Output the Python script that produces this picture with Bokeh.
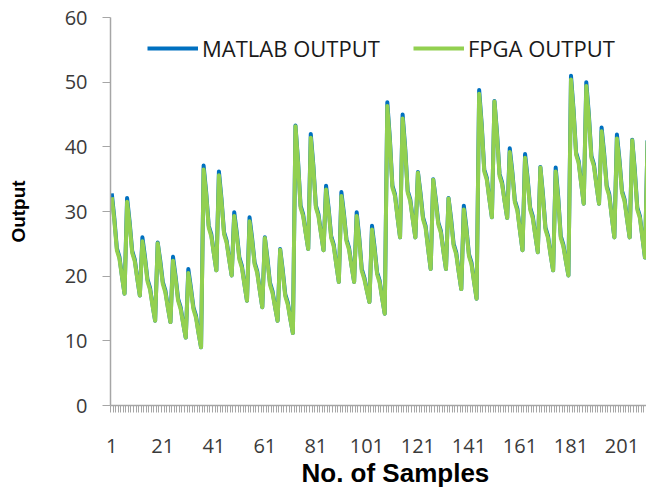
from bokeh.plotting import figure
from bokeh.models import FixedTicker, Range1d, Legend, LegendItem, Title
from bokeh.embed import file_html
from bokeh.resources import INLINE

# MATLAB output, one row per oscillation period (6 samples)
matlab = [
    32.8, 29.0, 24.3, 23.0, 20.0, 17.3,
    32.1, 28.4, 23.9, 22.6, 19.7, 17.0,
    26.0, 23.0, 19.5, 18.2, 15.5, 13.1,
    25.2, 22.4, 19.1, 17.8, 15.2, 12.9,
    23.0, 20.0, 16.5, 15.2, 12.7, 10.5,
    21.1, 18.3, 15.2, 13.9, 11.3, 9.0,
    37.1, 33.0, 27.8, 26.5, 23.6, 20.9,
    36.2, 32.0, 26.8, 25.5, 22.7, 20.1,
    29.9, 26.7, 22.9, 21.6, 18.8, 16.2,
    29.1, 25.9, 22.1, 20.8, 17.9, 15.2,
    26.0, 22.8, 19.0, 17.7, 15.3, 13.1,
    24.2, 21.0, 17.2, 15.9, 13.4, 11.2,
    43.3, 37.9, 30.9, 29.6, 26.8, 24.2,
    42.0, 37.2, 30.9, 29.6, 26.7, 24.0,
    34.0, 30.5, 26.2, 24.9, 21.9, 19.1,
    33.0, 29.7, 25.7, 24.4, 21.6, 19.1,
    29.9, 26.0, 21.1, 19.8, 17.8, 16.0,
    27.8, 24.5, 20.6, 19.3, 16.6, 14.2,
    46.9, 41.3, 34.0, 32.7, 29.2, 26.0,
    45.0, 39.9, 33.2, 31.9, 28.8, 26.0,
    36.1, 32.9, 29.1, 27.8, 24.3, 21.1,
    35.0, 31.9, 28.3, 27.0, 23.9, 21.1,
    32.1, 28.9, 25.0, 23.7, 20.7, 18.0,
    30.9, 27.5, 23.4, 22.1, 19.2, 16.5,
    48.8, 43.5, 36.5, 35.2, 32.0, 29.1,
    47.1, 42.2, 35.8, 34.5, 31.6, 29.0,
    39.8, 36.2, 31.7, 30.4, 27.1, 24.0,
    38.9, 35.2, 30.6, 29.3, 26.4, 23.7,
    36.9, 32.7, 27.5, 26.2, 23.4, 20.9,
    36.8, 32.2, 26.2, 24.9, 22.4, 20.1,
    51.0, 45.8, 39.1, 37.8, 34.4, 31.2,
    50.0, 45.0, 38.6, 37.3, 34.1, 31.2,
    43.0, 39.0, 34.0, 32.7, 29.2, 26.0,
    41.9, 38.0, 33.2, 31.9, 28.8, 26.0,
    41.1, 36.5, 30.6, 29.3, 26.0, 22.9,
    41.0,
]

# FPGA output
fpga = [
    32.2, 28.6, 24.0, 22.7, 19.9, 17.3,
    31.5, 28.0, 23.6, 22.3, 19.6, 17.0,
    25.4, 22.6, 19.2, 17.9, 15.4, 13.1,
    25.1, 22.0, 18.8, 17.5, 15.1, 12.9,
    22.4, 19.6, 16.2, 14.9, 12.6, 10.5,
    20.5, 17.9, 14.9, 13.6, 11.2, 9.0,
    36.5, 32.6, 27.5, 26.2, 23.5, 20.9,
    35.6, 31.6, 26.5, 25.2, 22.6, 20.1,
    29.3, 26.3, 22.6, 21.3, 18.7, 16.2,
    28.5, 25.5, 21.8, 20.5, 17.8, 15.2,
    25.9, 22.4, 18.7, 17.4, 15.2, 13.1,
    24.1, 20.6, 16.9, 15.6, 13.3, 11.2,
    43.2, 37.5, 30.6, 29.3, 26.7, 24.2,
    41.4, 36.8, 30.6, 29.3, 26.6, 24.0,
    33.4, 30.1, 25.9, 24.6, 21.8, 19.1,
    32.4, 29.3, 25.4, 24.1, 21.5, 19.1,
    29.3, 25.6, 20.8, 19.5, 17.7, 16.0,
    27.2, 24.1, 20.3, 19.0, 16.5, 14.2,
    46.3, 40.9, 33.7, 32.4, 29.1, 26.0,
    44.4, 39.5, 32.9, 31.6, 28.7, 26.0,
    36.0, 32.5, 28.8, 27.5, 24.2, 21.1,
    34.9, 31.5, 28.0, 26.7, 23.8, 21.1,
    32.0, 28.5, 24.7, 23.4, 20.6, 18.0,
    30.3, 27.1, 23.1, 21.8, 19.1, 16.5,
    48.2, 43.1, 36.2, 34.9, 31.9, 29.1,
    47.0, 41.8, 35.5, 34.2, 31.5, 29.0,
    39.2, 35.8, 31.4, 30.1, 27.0, 24.0,
    38.3, 34.8, 30.3, 29.0, 26.3, 23.7,
    36.8, 32.3, 27.2, 25.9, 23.3, 20.9,
    36.2, 31.8, 25.9, 24.6, 22.3, 20.1,
    50.4, 45.4, 38.8, 37.5, 34.3, 31.2,
    49.4, 44.6, 38.3, 37.0, 34.0, 31.2,
    42.4, 38.6, 33.7, 32.4, 29.1, 26.0,
    41.3, 37.6, 32.9, 31.6, 28.7, 26.0,
    41.0, 36.1, 30.3, 29.0, 25.9, 22.9,
    40.9,
]

samples = list(range(1, len(matlab) + 1))
x_tick_values = [1, 21, 41, 61, 81, 101, 121, 141, 161, 181, 201]
x_tick_labels = ["1", "21", "41", "61", "81", "101", "121", "141", "161", "181", "201"]
y_tick_values = [0, 10, 20, 30, 40, 50, 60]
series_names = ["MATLAB OUTPUT", "FPGA OUTPUT"]
series_colors = ["#0070C0", "#92D050"]
x_title = "No. of Samples"
y_title = "Output"

p = figure(width=646, height=495, output_backend="svg", toolbar_location=None,
           x_range=Range1d(0.5, 210.6), y_range=Range1d(0, 60),
           min_border_left=110, min_border_right=0, min_border_top=17,
           min_border_bottom=90)
p.outline_line_color = None
p.xgrid.grid_line_color = None
p.ygrid.grid_line_color = None
p.background_fill_color = "white"
p.border_fill_color = "white"

r_m = p.line(samples, matlab, line_color=series_colors[0], line_width=4,
             line_join="round")
r_f = p.line(samples, fpga, line_color=series_colors[1], line_width=4,
             line_join="round")

axis_gray = "#a6a6a6"
label_gray = "#3a3a3a"

xa = p.xaxis[0]
xa.ticker = FixedTicker(ticks=x_tick_values,
                        minor_ticks=[s - 0.5 for s in samples])
xa.major_label_overrides = {v: l for v, l in zip(x_tick_values, x_tick_labels)}
xa.axis_line_color = axis_gray
xa.axis_line_width = 1.5
xa.major_tick_out = 0
xa.major_tick_in = 0
xa.minor_tick_out = 7
xa.minor_tick_in = 0
xa.minor_tick_line_color = axis_gray
xa.major_label_text_font = "Open Sans"
xa.major_label_text_font_size = "20px"
xa.major_label_text_color = label_gray
xa.major_label_standoff = 26

# x-axis title, a little right of centre as in the original
p.add_layout(Title(text=x_title, align="left", offset=191, standoff=0,
                   text_font="Liberation Sans", text_font_style="bold",
                   text_font_size="26px", text_color="black"), "below")

ya = p.yaxis[0]
ya.ticker = FixedTicker(ticks=y_tick_values)
ya.axis_line_color = axis_gray
ya.axis_line_width = 1.5
ya.major_tick_out = 8
ya.major_tick_in = 0
ya.major_tick_line_color = axis_gray
ya.minor_tick_line_color = None
ya.major_label_text_font = "Open Sans"
ya.major_label_text_font_size = "20px"
ya.major_label_text_color = label_gray
ya.major_label_standoff = 15
ya.axis_label = y_title
ya.axis_label_text_font = "Liberation Sans"
ya.axis_label_text_font_style = "bold"
ya.axis_label_text_font_size = "19px"
ya.axis_label_text_color = "black"
ya.axis_label_standoff = 33

for renderer, name, loc in [(r_m, series_names[0], (37, 342)),
                            (r_f, series_names[1], (303, 342))]:
    leg = Legend(items=[LegendItem(label=name, renderers=[renderer])],
                 location=loc, orientation="horizontal",
                 glyph_width=51, glyph_height=22, label_height=22,
                 label_standoff=4, padding=0, margin=0, spacing=0,
                 border_line_color=None, background_fill_alpha=0,
                 label_text_font="Open Sans", label_text_font_size="22px",
                 label_text_color="#1a1a1a")
    p.add_layout(leg)

open("out.html", "w").write(file_html(p, INLINE))
